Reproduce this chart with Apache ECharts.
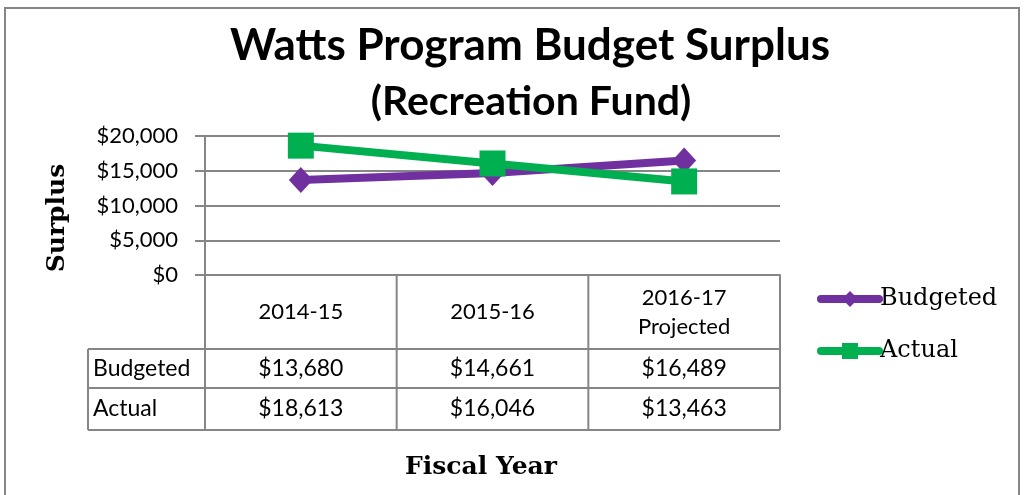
<!DOCTYPE html>
<html>
<head>
<meta charset="utf-8">
<script src="https://cdn.jsdelivr.net/npm/echarts@6/dist/echarts.min.js"></script>
<style>
html,body{margin:0;padding:0;background:#fff;}
#chart{width:1024px;height:495px;}
</style>
</head>
<body>
<div id="chart"></div>
<script>
//年度分类
var years = ['2014-15', '2015-16', '2016-17\nProjected'];
//预算与实际数据
var budgeted = [13680, 14661, 16489];
var actual = [18613, 16046, 13463];
//纵轴刻度
var yTicks = [0, 5000, 10000, 15000, 20000];

var sansFont = 'Lato';
var serifFont = 'DejaVu Serif';
var gray = '#868686';

function money(v){
	return '$' + String(v).replace(/\B(?=(\d{3})+(?!\d))/g, ',');
}

var option = {
	backgroundColor: '#fff',
	animation: false,
	legend: {
		orient: 'vertical',
		left: 817,
		top: 287,
		padding: 0,
		itemWidth: 58,
		itemHeight: 20,
		itemGap: 28,
		lineStyle: {width: 8, cap: 'round'},
		textStyle: {fontFamily: serifFont, fontSize: 24, color: '#000', padding: [0, 0, 0, -4]},
		data: ['Budgeted', 'Actual']
	},
	grid: {left: 205, top: 136, width: 575, height: 139},
	xAxis: {
		type: 'category',
		data: years,
		axisLine: {lineStyle: {color: gray, width: 2}},
		axisTick: {show: false},
		axisLabel: {show: false},
		splitLine: {show: false}
	},
	yAxis: {
		type: 'value',
		min: yTicks[0],
		max: yTicks[yTicks.length - 1],
		interval: 5000,
		axisLine: {show: true, lineStyle: {color: gray, width: 2}},
		axisTick: {show: true, length: 10, lineStyle: {color: gray, width: 2}},
		axisLabel: {
			margin: 27,
			fontFamily: sansFont,
			fontSize: 22,
			color: '#000',
			formatter: function(v){ return money(v); }
		},
		splitLine: {lineStyle: {color: gray, width: 2}}
	},
	series: [{
		name: 'Budgeted',
		type: 'line',
		data: budgeted,
		symbol: 'diamond',
		symbolSize: [24, 26],
		itemStyle: {color: '#7030A0'},
		lineStyle: {color: '#7030A0', width: 8}
	}, {
		name: 'Actual',
		type: 'line',
		data: actual,
		symbol: 'rect',
		symbolSize: 26,
		itemStyle: {color: '#00B050'},
		lineStyle: {color: '#00B050', width: 8}
	}]
};

var myChart = echarts.init(document.getElementById('chart'));
myChart.setOption(option, true);

//标题、数据表、轴标题
function buildTable(){
	var rowY = [275, 349, 388, 430];
	var labelLeft = 88;
	var n = years.length;
	var c0 = myChart.convertToPixel({xAxisIndex: 0}, 0);
	var c1 = myChart.convertToPixel({xAxisIndex: 0}, 1);
	var band = c1 - c0;
	var els = [];
	var lineStyle = {stroke: gray, lineWidth: 2};
	//标题
	els.push({type: 'text', x: 530, y: 46, style: {
		text: 'Watts Program Budget Surplus', fontFamily: sansFont, fontWeight: 'bold', fontSize: 44, fill: '#000', align: 'center', verticalAlign: 'middle'
	}});
	els.push({type: 'text', x: 531, y: 102, style: {
		text: '(Recreation Fund)', fontFamily: sansFont, fontWeight: 'bold', fontSize: 41, fill: '#000', align: 'center', verticalAlign: 'middle'
	}});
	//横线
	els.push({type: 'line', shape: {x1: c0 - band / 2, y1: rowY[0], x2: c0 + band * (n - 0.5), y2: rowY[0]}, style: lineStyle});
	for(var r = 1; r < rowY.length; r++){
		els.push({type: 'line', shape: {x1: labelLeft, y1: rowY[r], x2: c0 + band * (n - 0.5), y2: rowY[r]}, style: lineStyle});
	}
	//竖线
	els.push({type: 'line', shape: {x1: labelLeft, y1: rowY[1], x2: labelLeft, y2: rowY[3]}, style: lineStyle});
	for(var i = 0; i <= n; i++){
		var x = c0 + band * (i - 0.5);
		els.push({type: 'line', shape: {x1: x, y1: rowY[0], x2: x, y2: rowY[3]}, style: lineStyle});
	}
	var rows = [['Budgeted', budgeted], ['Actual', actual]];
	for(var j = 0; j < n; j++){
		var cx = c0 + band * j;
		els.push({type: 'text', x: cx, y: (rowY[0] + rowY[1]) / 2, style: {
			text: years[j], fontFamily: sansFont, fontSize: 22, lineHeight: 29, fill: '#000', align: 'center', verticalAlign: 'middle'
		}});
		for(var k = 0; k < rows.length; k++){
			els.push({type: 'text', x: cx, y: (rowY[k + 1] + rowY[k + 2]) / 2, style: {
				text: money(rows[k][1][j]), fontFamily: sansFont, fontSize: 23, fill: '#000', align: 'center', verticalAlign: 'middle'
			}});
		}
	}
	for(var m = 0; m < rows.length; m++){
		els.push({type: 'text', x: labelLeft + 5, y: (rowY[m + 1] + rowY[m + 2]) / 2, style: {
			text: rows[m][0], fontFamily: sansFont, fontSize: 23, fill: '#000', align: 'left', verticalAlign: 'middle'
		}});
	}
	//轴标题
	els.push({type: 'text', x: 481, y: 467, style: {
		text: 'Fiscal Year', fontFamily: serifFont, fontWeight: 'bold', fontSize: 25, fill: '#000', align: 'center', verticalAlign: 'middle'
	}});
	els.push({type: 'text', x: 57, y: 218, rotation: Math.PI / 2, style: {
		text: 'Surplus', fontFamily: serifFont, fontWeight: 'bold', fontSize: 25, fill: '#000', align: 'center', verticalAlign: 'middle'
	}});
	//外框
	els.push({type: 'rect', shape: {x: 5, y: 8, width: 1014, height: 500}, style: {fill: 'none', stroke: gray, lineWidth: 2}, z: -1});
	myChart.setOption({graphic: {elements: els}});
}
buildTable();
</script>
</body>
</html>
